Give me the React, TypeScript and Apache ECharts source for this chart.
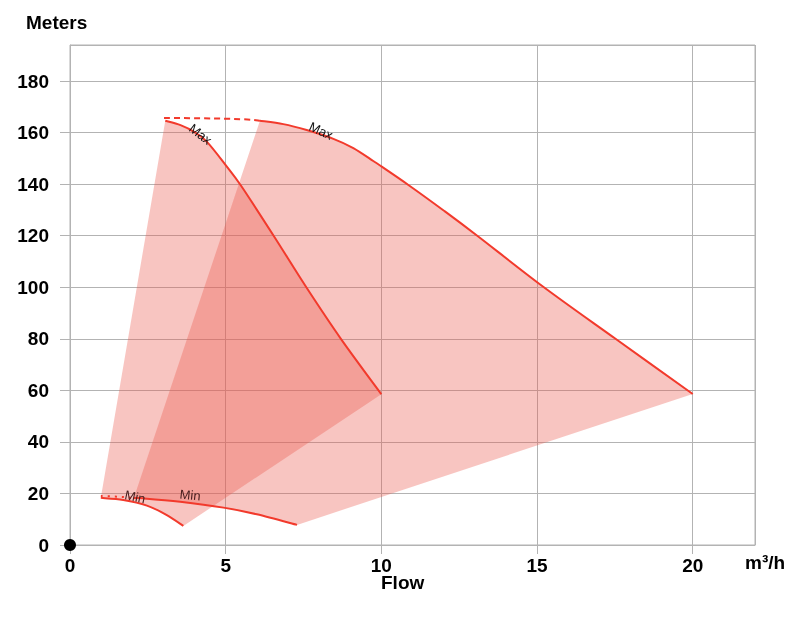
import React, { useEffect, useRef } from "react";
import * as echarts from "echarts";

// ---- data (flow m³/h, head meters) ----
const pump1Max = [[3.06, 164.6], [3.55, 162.9], [4.0, 160.2], [4.4, 156.4], [5.0, 147.4], [5.5, 139.3], [6.54, 120], [7.59, 100], [8.7, 80], [10, 58.5]];
const pump1Min = [[0.99, 18.3], [1.71, 17.5], [2.47, 15.3], [3.11, 11.6], [3.64, 7.4]];
const pump2Max = [[6.1, 164.6], [6.85, 163.3], [7.6, 161.0], [8.46, 157.6], [9.1, 154.0], [9.74, 149.0], [10.0, 146.9], [10.88, 139.6], [12.0, 129.8], [13.08, 120], [15.22, 100], [17.52, 80], [20, 58.6]];
const pump2MaxExt = [[3.02, 165.7], [4.6, 165.5], [5.7, 165.1], [6.1, 164.6]];
const pump2Min = [[2.05, 18.2], [2.36, 18.1], [3.54, 16.8], [4.93, 14.5], [6.0, 11.9], [7.29, 7.8]];
const pump2MinExt = [[0.99, 19.0], [1.6, 18.7], [2.05, 18.2]];
const curveLabels = [
  { x: 4.19, y: 159.4, text: "Max", rot: 38, color: "#111111" },
  { x: 8.06, y: 160.7, text: "Max", rot: 25, color: "#111111" },
  { x: 2.09, y: 18.7, text: "Min", rot: 12, color: "#4a2020" },
  { x: 3.86, y: 19.4, text: "Min", rot: 6, color: "#4a2020" },
];
const yTicks = [0, 20, 40, 60, 80, 100, 120, 140, 160, 180];
const xTicks = [0, 5, 10, 15, 20];

const RED = "#f23a2c";
const FILL = "rgba(235,89,78,0.35)";
const GRID = "#b3b3b3";
const FONT = "'Liberation Sans', Arial, sans-serif";

// Catmull-Rom spline through pixel points, as cubic Bezier segments
function splineSegs(pts: number[][]): string {
  let d = "";
  const n = pts.length;
  for (let i = 0; i < n - 1; i++) {
    const p0 = pts[i - 1] || pts[i];
    const p1 = pts[i];
    const p2 = pts[i + 1];
    const p3 = pts[i + 2] || pts[i + 1];
    const c1x = p1[0] + (p2[0] - p0[0]) / 6;
    const c1y = p1[1] + (p2[1] - p0[1]) / 6;
    const c2x = p2[0] - (p3[0] - p1[0]) / 6;
    const c2y = p2[1] - (p3[1] - p1[1]) / 6;
    d += ` C${c1x.toFixed(2)},${c1y.toFixed(2)} ${c2x.toFixed(2)},${c2y.toFixed(2)} ${p2[0].toFixed(2)},${p2[1].toFixed(2)}`;
  }
  return d;
}

function regionSeries(maxPts: number[][], minPts: number[][]) {
  return {
    type: "custom",
    z: 1,
    silent: true,
    data: [maxPts[0]],
    renderItem: (_p: any, api: any) => {
      const top = maxPts.map((pt) => api.coord(pt));
      const bot = [...minPts].reverse().map((pt) => api.coord(pt));
      const d =
        `M${top[0][0]},${top[0][1]}` +
        splineSegs(top) +
        ` L${bot[0][0]},${bot[0][1]}` +
        splineSegs(bot) +
        " Z";
      return { type: "path", shape: { pathData: d }, style: { fill: FILL, stroke: "none" } };
    },
  };
}

function curveSeries(pts: number[][], dash?: number[]) {
  return {
    type: "custom",
    z: 3,
    silent: true,
    data: [pts[0]],
    renderItem: (_p: any, api: any) => {
      const px = pts.map((pt) => api.coord(pt));
      const d = `M${px[0][0]},${px[0][1]}` + splineSegs(px);
      return {
        type: "path",
        shape: { pathData: d },
        style: { fill: "none", stroke: RED, lineWidth: 2, lineDash: dash || null },
      };
    },
  };
}

export default function App() {
  const ref = useRef<HTMLDivElement>(null);
  useEffect(() => {
    if (!ref.current) return;
    const chart = echarts.init(ref.current, undefined, { renderer: "svg" });
    chart.setOption({
      animation: false,
      grid: { left: 70, right: 45, top: 45, bottom: 80, show: true, borderColor: GRID, borderWidth: 1, backgroundColor: "transparent" },
      xAxis: {
        type: "value",
        min: 0,
        max: 22,
        interval: 5,
        axisLine: { show: true, lineStyle: { color: GRID } },
        axisTick: { show: true, length: 9, lineStyle: { color: GRID } },
        splitLine: { show: true, lineStyle: { color: GRID } },
        axisLabel: {
          showMaxLabel: false,
          margin: 11,
          color: "#000",
          fontWeight: "bold",
          fontSize: 19,
          fontFamily: FONT,
          formatter: (v: number) => (xTicks.includes(v) ? String(v) : ""),
        },
      },
      yAxis: {
        type: "value",
        min: 0,
        max: 194,
        interval: 20,
        axisLine: { show: true, lineStyle: { color: GRID } },
        axisTick: { show: true, length: 10, lineStyle: { color: GRID } },
        splitLine: { show: true, lineStyle: { color: GRID } },
        axisLabel: {
          showMaxLabel: false,
          margin: 21,
          color: "#000",
          fontWeight: "bold",
          fontSize: 19,
          fontFamily: FONT,
          formatter: (v: number) => (yTicks.includes(v) ? String(v) : ""),
        },
      },
      graphic: [
        { type: "text", left: 26, top: 13, style: { text: "Meters", font: `bold 19px ${FONT}`, fill: "#000" } },
        { type: "text", left: 381, top: 573, style: { text: "Flow", font: `bold 19px ${FONT}`, fill: "#000" } },
        { type: "text", left: 745, top: 553, style: { text: "m³/h", font: `bold 19px ${FONT}`, fill: "#000" } },
      ],
      series: [
        regionSeries(pump1Max, pump1Min),
        regionSeries(pump2Max, pump2Min),
        curveSeries(pump1Max),
        curveSeries(pump1Min),
        curveSeries(pump2Max),
        curveSeries(pump2Min),
        curveSeries(pump2MaxExt, [6, 4]),
        curveSeries(pump2MinExt, [2, 5]),
        {
          type: "custom",
          z: 4,
          silent: true,
          data: curveLabels.map((l) => [l.x, l.y]),
          renderItem: (params: any, api: any) => {
            const l = curveLabels[params.dataIndex];
            const p = api.coord([l.x, l.y]);
            return {
              type: "text",
              x: p[0],
              y: p[1],
              rotation: (-l.rot * Math.PI) / 180,
              style: { text: l.text, font: `13px ${FONT}`, fill: l.color, align: "center", verticalAlign: "middle" },
            };
          },
        },
        {
          type: "scatter",
          z: 5,
          clip: false,
          silent: true,
          data: [[0, 0]],
          symbolSize: 12,
          itemStyle: { color: "#000", opacity: 1 },
        },
      ],
    });
    return () => chart.dispose();
  }, []);
  return <div ref={ref} style={{ position: "fixed", left: 0, top: 0, width: 800, height: 625 }} />;
}
